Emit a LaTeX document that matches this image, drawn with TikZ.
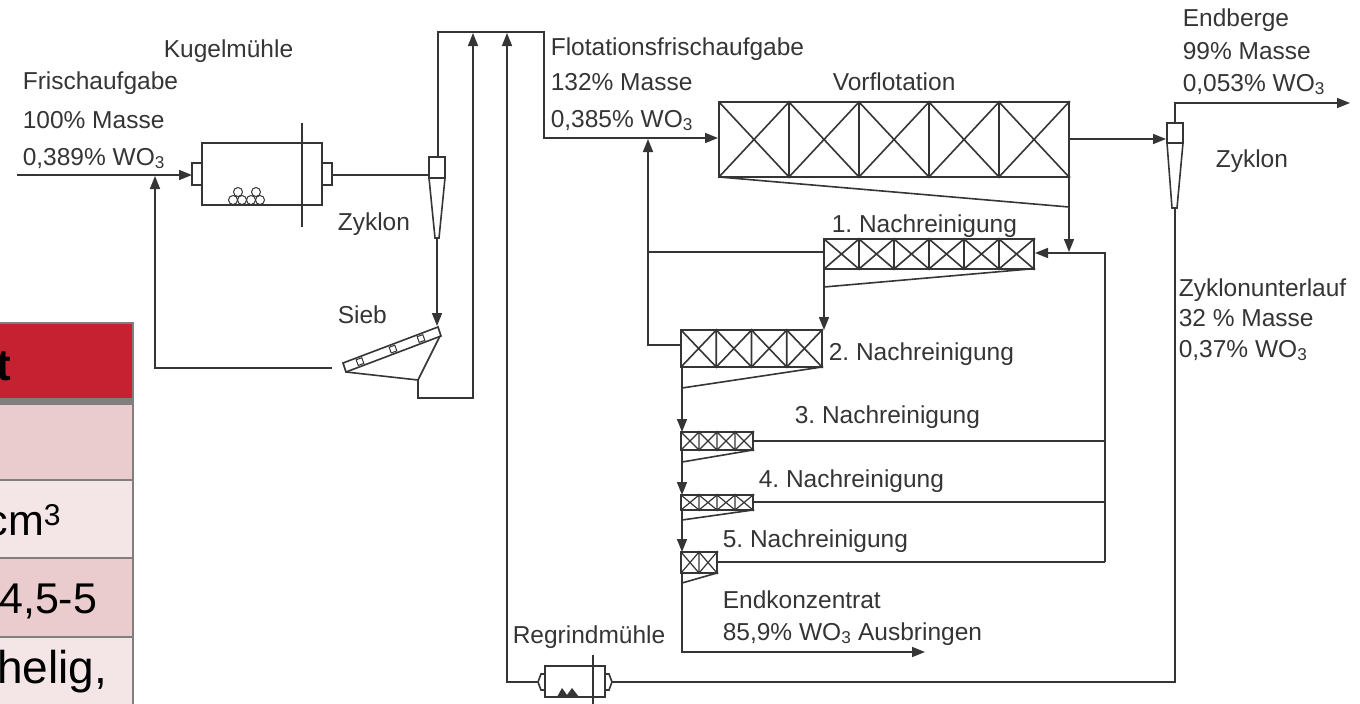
\documentclass[tikz,border=0pt]{standalone}
\usepackage{fontspec}
\setmainfont{Liberation Sans}
\usetikzlibrary{arrows.meta}

\definecolor{ink}{HTML}{353535}
\definecolor{tabred}{HTML}{C62130}
\definecolor{tabpinka}{HTML}{EACCCE}
\definecolor{tabpinkb}{HTML}{F4E6E7}
\definecolor{tabedge}{HTML}{7F7F7F}

% bank of flotation cells: x, y, number of cells, cell width, height
\newcommand{\cellbank}[5]{%
  \draw (#1,#2) rectangle ({#1+#3*#4},{#2+#5});
  \foreach \k in {1,...,#3} {
    \draw ({#1+(\k-1)*#4},#2) -- ({#1+\k*#4},{#2+#5})
          ({#1+\k*#4},#2) -- ({#1+(\k-1)*#4},{#2+#5})
          ({#1+\k*#4},#2) -- ({#1+\k*#4},{#2+#5});
    \fill ({#1+\k*#4},#2) circle (1.5) ({#1+\k*#4},{#2+#5}) circle (1.5);
  }
}

\begin{document}
\frenchspacing
\begin{tikzpicture}[x=1pt, y=-1pt, line width=1.6pt, draw=ink, fill=ink,
    flow/.style={-{Triangle[length=13pt,width=10pt]}},
    lbl/.style={anchor=base west, inner sep=0pt, text=ink,
                font=\fontsize{24.5}{29}\selectfont},
    tabtxt/.style={anchor=base east, inner sep=0pt, text=black,
                font=\fontsize{43}{50}\selectfont}]

    \useasboundingbox (0,0) rectangle (1360,704);

    % Table cut off at the left edge.
    \fill[tabred] (0,323) rectangle (133,398);
    \fill[tabpinka] (0,401) rectangle (133,480);
    \fill[tabpinkb] (0,480) rectangle (133,558);
    \fill[tabpinka] (0,558) rectangle (133,637);
    \fill[tabpinkb] (0,637) rectangle (133,710);
    \draw[tabedge, line width=2.5pt] (-5,323) -- (133,323) -- (133,710);
    \draw[tabedge, line width=7pt] (-5,401) -- (133,401);
    \foreach \ty in {480,558,637}
        \draw[tabedge, line width=2pt] (-5,\ty) -- (133,\ty);
    \node[tabtxt, font=\bfseries\fontsize{44}{50}\selectfont] (tabhead) at (12,380) {t};
    \node[tabtxt] (tabrowb) at (62,535) {cm\textsuperscript{3}};
    \node[tabtxt] (tabrowc) at (98,613) {4,5-5};
    \node[tabtxt, font=\fontsize{46}{50}\selectfont] (tabrowd) at (108,683) {helig,};

    % Ball mill.
    \draw (202,143) rectangle (322,205);
    \draw (192,163) rectangle (202,185);
    \draw (322,163) rectangle (332,185);
    \draw (302,123) -- (302,227);
    \foreach \bx/\by in {233/200,242/200,238/192,251/200,260/200,256/192}
        \draw[line width=1pt] (\bx,\by) circle (4.5);

    % Cyclone after the ball mill.
    \draw (429,157) rectangle (445,178);
    \draw (429,178) -- (435,238) -- (439,238) -- (445,178);

    % Screen.
    \draw (343,363) -- (438,327) -- (441,336) -- (346,372) -- cycle;
    \foreach \sx/\sy in {360/361.6,393/349.1,421/338.5}
        \draw[line width=1pt, shift={(\sx,\sy)}, rotate=20] (-3,-3) rectangle (3,3);
    \draw (346,372) -- (418,380) -- (440,336);

    % Regrind mill.
    \draw (545,666) rectangle (605,697);
    \draw (545,674) -- (541,674) -- (538,682) -- (541,690) -- (545,690);
    \draw (605,674) -- (609,674) -- (612,682) -- (609,690) -- (605,690);
    \draw (593,655) -- (593,710);
    \fill (557,697) -- (562,688) -- (567,695) -- (572,688) -- (579,697) -- cycle;

    % Cyclone after the rougher.
    \draw (1167,123) rectangle (1183,143);
    \draw (1167,143) -- (1172,208) -- (1177,208) -- (1183,143);

    % Rougher and five cleaner banks.
    \cellbank{719}{102}{5}{70}{75}
    \cellbank{824}{239}{6}{35}{30}
    \cellbank{681}{330}{4}{35.25}{37}
    \begin{scope}[line width=1.2pt]
        \cellbank{681}{432}{4}{18}{18}
        \cellbank{681}{495}{4}{18}{15}
        \cellbank{681}{552}{2}{18}{21}
    \end{scope}

    % Ports.
    \coordinate (feedstart) at (17,175);
    \coordinate (millin) at (192,175);
    \coordinate (millout) at (332,175);
    \coordinate (zykain) at (429,175);
    \coordinate (zykatop) at (438,157);
    \coordinate (zykabot) at (437,238);
    \coordinate (siebin) at (437,326);
    \coordinate (siebover) at (332,368);
    \coordinate (siebunder) at (418,380);
    \coordinate (flotin) at (718,138);
    \coordinate (vorout) at (1069,139);
    \coordinate (zykbin) at (1166,139);
    \coordinate (zykbtop) at (1175,123);
    \coordinate (zykbbot) at (1175,208);
    \coordinate (tailsend) at (1350,103);
    \coordinate (regin) at (538,682);
    \coordinate (regout) at (612,682);
    \coordinate (nrain) at (1035,253);
    \coordinate (konzend) at (925,652);

    % Grinding circuit.
    \draw[flow] (feedstart) -- (millin);
    \draw[flow] (siebover) -- (155,368) -- (155,176);
    \draw (millout) -- (zykain);
    \draw[flow] (zykabot) -- (siebin);
    \draw[flow] (zykatop) -- (438,32) -- (544,32) -- (544,138) -- (flotin);
    \draw[flow] (siebunder) -- (418,398) -- (473,398) -- (473,33);
    \draw[flow] (regin) -- (507,682) -- (507,33);

    % Rougher outlets and cyclone.
    \draw[flow] (vorout) -- (zykbin);
    \draw[flow] (zykbtop) -- (1175,103) -- (tailsend);
    \draw (zykbbot) -- (1175,682) -- (regout);
    \draw (719,177) -- (1069,207);
    \draw[flow] (1069,177) -- (1069,252);

    % Cleaner circuit.
    \draw[flow] (1105,562) -- (1105,253) -- (nrain);
    \draw (753,441) -- (1105,441);
    \draw (753,502) -- (1105,502);
    \draw (717,562) -- (1105,562);
    \draw (824,252) -- (648,252);
    \draw[flow] (681,345) -- (648,345) -- (648,139);
    \draw (1030,269) -- (824,287);
    \draw[flow] (824,269) -- (824,330);
    \draw (822,367) -- (682,388);
    \draw[flow] (682,367) -- (682,432);
    \draw (753,450) -- (682,462);
    \draw[flow] (682,450) -- (682,495);
    \draw (753,510) -- (682,520);
    \draw[flow] (682,510) -- (682,552);
    \draw (717,573) -- (682,583);
    \draw[flow] (682,573) -- (682,652) -- (konzend);

    % Labels.
    \node[lbl] (kugeltxt) at (163,57) {Kugelmühle};
    \node[lbl] (feedtxta) at (22,89) {Frischaufgabe};
    \node[lbl] (feedtxtb) at (22,128) {100\% Masse};
    \node[lbl] (feedtxtc) at (22,165) {0,389\% WO\textsubscript{3}};
    \node[lbl] (zykatxt) at (337,230) {Zyklon};
    \node[lbl] (siebtxt) at (337,323) {Sieb};
    \node[lbl] (flottxta) at (550,55) {Flotationsfrischaufgabe};
    \node[lbl] (flottxtb) at (550,90) {132\% Masse};
    \node[lbl] (flottxtc) at (550,127) {0,385\% WO\textsubscript{3}};
    \node[lbl] (vortxt) at (832,90) {Vorflotation};
    \node[lbl] (bergtxta) at (1182,27) {Endberge};
    \node[lbl] (bergtxtb) at (1182,59) {99\% Masse};
    \node[lbl] (bergtxtc) at (1182,91) {0,053\% WO\textsubscript{3}};
    \node[lbl] (zykbtxt) at (1215,167) {Zyklon};
    \node[lbl] (unterltxta) at (1178,296) {Zyklonunterlauf};
    \node[lbl] (unterltxtb) at (1178,326) {32 \% Masse};
    \node[lbl] (unterltxtc) at (1178,357) {0,37\% WO\textsubscript{3}};
    \node[lbl] (nra) at (831,232) {1. Nachreinigung};
    \node[lbl] (nrb) at (828,360) {2. Nachreinigung};
    \node[lbl] (nrc) at (794,423) {3. Nachreinigung};
    \node[lbl] (nrd) at (758,487) {4. Nachreinigung};
    \node[lbl] (nre) at (722,547) {5. Nachreinigung};
    \node[lbl] (konztxta) at (722,608) {Endkonzentrat};
    \node[lbl] (konztxtb) at (722,640) {85,9\% WO\textsubscript{3} Ausbringen};
    \node[lbl] (regtxt) at (512,643) {Regrindmühle};
\end{tikzpicture}
\end{document}
